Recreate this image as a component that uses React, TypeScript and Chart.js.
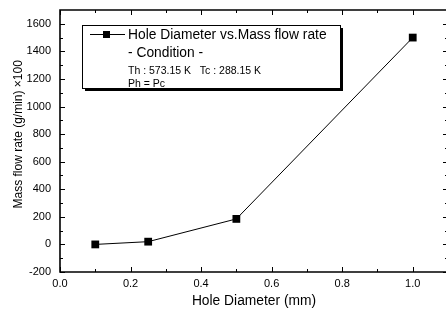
import React, { useEffect, useRef } from 'react';
import { Chart, registerables } from 'chart.js';

Chart.register(...registerables);

// ---- Data ----
const holeDiameters = [0.1, 0.25, 0.5, 1.0];
const massFlowRates = [0, 20, 185, 1500];

// ---- Axis ticks ----
const xMajorTicks = [0.0, 0.2, 0.4, 0.6, 0.8, 1.0];
const xMinorTicks = [0.1, 0.3, 0.5, 0.7, 0.9];
const yMajorTicks = [-200, 0, 200, 400, 600, 800, 1000, 1200, 1400, 1600];
const yMinorTicks = [-100, 100, 300, 500, 700, 900, 1100, 1300, 1500];

// ---- Text ----
const xAxisTitle = 'Hole Diameter (mm)';
const yAxisTitle = 'Mass flow rate (g/min) ×100';
const seriesLabel = 'Hole Diameter vs.Mass flow rate';
const conditionLines = ['- Condition -', 'Th : 573.15 K   Tc : 288.15 K', 'Ph = Pc'];

const FONT = '"Liberation Sans", Arial, Helvetica, sans-serif';

// Fixed plot frame (matches the reference layout)
const AREA = { left: 60, top: 10, right: 448, bottom: 272 };

const fixAreaPlugin = {
  id: 'fixArea',
  afterLayout(chart: any) {
    const ca = chart.chartArea;
    ca.left = AREA.left;
    ca.top = AREA.top;
    ca.right = AREA.right;
    ca.bottom = AREA.bottom;
    ca.width = AREA.right - AREA.left;
    ca.height = AREA.bottom - AREA.top;
    const xs = chart.scales.x;
    const ys = chart.scales.y;
    xs.left = AREA.left;
    xs.right = AREA.right;
    xs.width = AREA.right - AREA.left;
    xs.top = AREA.bottom;
    xs.bottom = chart.height;
    xs.height = chart.height - AREA.bottom;
    ys.left = 0;
    ys.right = AREA.left;
    ys.width = AREA.left;
    ys.top = AREA.top;
    ys.bottom = AREA.bottom;
    ys.height = AREA.bottom - AREA.top;
    xs.configure();
    ys.configure();
  },
};

const framePlugin = {
  id: 'frameTicks',
  afterDraw(chart: any) {
    const { ctx, chartArea } = chart;
    const xs = chart.scales.x;
    const ys = chart.scales.y;
    const { left, right, top, bottom } = chartArea;
    ctx.save();
    ctx.strokeStyle = '#000';
    ctx.lineWidth = 1.6;
    ctx.beginPath();
    ctx.moveTo(left, top);
    ctx.lineTo(right, top);
    ctx.lineTo(right, bottom);
    ctx.lineTo(left, bottom);
    ctx.closePath();
    ctx.stroke();
    const drawX = (vals: number[], len: number) => {
      vals.forEach((v) => {
        const px = Math.round(xs.getPixelForValue(v)) + 0.5;
        ctx.beginPath();
        ctx.moveTo(px, bottom);
        ctx.lineTo(px, bottom - len);
        ctx.moveTo(px, top);
        ctx.lineTo(px, top + len);
        ctx.stroke();
      });
    };
    const drawY = (vals: number[], len: number) => {
      vals.forEach((v) => {
        const py = Math.round(ys.getPixelForValue(v)) + 0.5;
        ctx.beginPath();
        ctx.moveTo(left, py);
        ctx.lineTo(left + len, py);
        ctx.moveTo(right, py);
        ctx.lineTo(right - len, py);
        ctx.stroke();
      });
    };
    ctx.lineWidth = 1;
    drawX(xMajorTicks, 5);
    drawY(yMajorTicks, 5);
    drawX(xMinorTicks, 3);
    drawY(yMinorTicks, 3);
    ctx.restore();
  },
};

const legendBoxPlugin = {
  id: 'legendBox',
  afterDraw(chart: any) {
    const { ctx, chartArea } = chart;
    const bx = chartArea.left + 22;
    const by = chartArea.top + 15;
    const bw = 258;
    const bh = 63;
    ctx.save();
    ctx.fillStyle = '#000';
    ctx.fillRect(bx + 3, by + 3, bw, bh);
    ctx.fillStyle = '#fff';
    ctx.fillRect(bx, by, bw, bh);
    ctx.strokeStyle = '#000';
    ctx.lineWidth = 1;
    ctx.strokeRect(bx + 0.5, by + 0.5, bw, bh);
    const sy = by + 9;
    ctx.beginPath();
    ctx.moveTo(bx + 8, sy + 0.5);
    ctx.lineTo(bx + 43, sy + 0.5);
    ctx.stroke();
    ctx.fillStyle = '#000';
    ctx.fillRect(bx + 21, sy - 3, 7, 7);
    ctx.textBaseline = 'alphabetic';
    ctx.textAlign = 'left';
    const tx = bx + 46;
    ctx.font = `13.8px ${FONT}`;
    ctx.fillText(seriesLabel, tx, by + 14);
    ctx.fillText(conditionLines[0], tx, by + 32);
    ctx.font = `10.5px ${FONT}`;
    ctx.fillText(conditionLines[1], tx, by + 49);
    ctx.fillText(conditionLines[2], tx, by + 62);
    ctx.restore();
  },
};

export default function App() {
  const canvasRef = useRef<HTMLCanvasElement | null>(null);

  useEffect(() => {
    if (!canvasRef.current) return;
    const chart = new Chart(canvasRef.current, {
      type: 'scatter',
      data: {
        datasets: [
          {
            label: seriesLabel,
            data: holeDiameters.map((x, i) => ({ x, y: massFlowRates[i] })),
            showLine: true,
            borderColor: '#000',
            borderWidth: 1,
            backgroundColor: '#000',
            pointStyle: 'rect',
            pointRadius: 5.5,
            pointHoverRadius: 5.5,
            pointBorderWidth: 0,
            tension: 0,
          },
        ],
      },
      options: {
        animation: false,
        responsive: false,
        events: [],
        layout: { padding: 0 },
        plugins: {
          legend: { display: false },
          tooltip: { enabled: false },
          title: { display: false },
        },
        scales: {
          x: {
            type: 'linear',
            min: 0,
            max: 1.1,
            grid: { display: false, drawTicks: false },
            border: { display: false },
            afterBuildTicks: (scale: any) => {
              scale.ticks = xMajorTicks.map((v) => ({ value: v }));
            },
            ticks: {
              color: '#000',
              padding: 5,
              maxRotation: 0,
              autoSkip: false,
              font: { family: FONT, size: 11 },
              callback: (v: any) => Number(v).toFixed(1),
            },
            title: {
              display: true,
              text: xAxisTitle,
              color: '#000',
              font: { family: FONT, size: 13.8 },
              padding: { top: 0, bottom: 4 },
            },
          },
          y: {
            type: 'linear',
            min: -200,
            max: 1700,
            grid: { display: false, drawTicks: false },
            border: { display: false },
            afterBuildTicks: (scale: any) => {
              scale.ticks = yMajorTicks.map((v) => ({ value: v }));
            },
            ticks: {
              color: '#000',
              padding: 9,
              autoSkip: false,
              font: { family: FONT, size: 11 },
              callback: (v: any) => String(v),
            },
            title: {
              display: true,
              text: '    ' + yAxisTitle,
              color: '#000',
              font: { family: FONT, size: 12 },
              padding: { top: 11, bottom: 0 },
            },
          },
        },
      },
      plugins: [fixAreaPlugin, framePlugin, legendBoxPlugin],
    });
    return () => chart.destroy();
  }, []);

  return (
    <div style={{ position: 'fixed', left: 0, top: 0, width: 446, height: 313, background: '#fff' }}>
      <canvas ref={canvasRef} width={446} height={313} style={{ display: 'block', width: 446, height: 313 }} />
    </div>
  );
}
